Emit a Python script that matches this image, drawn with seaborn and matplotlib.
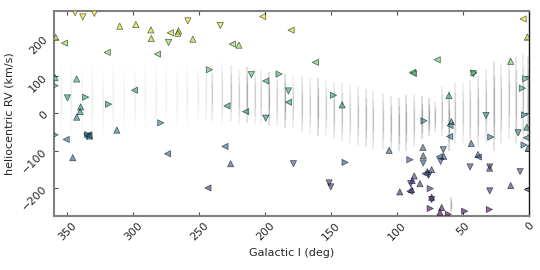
import numpy as np
import pandas as pd
import matplotlib
matplotlib.use("Agg")
import matplotlib.pyplot as plt
import seaborn as sns

# ---- triangle markers ----
gal_l = [344.0, 329.4, 338.2, 310.2, 298.0, 258.6, 286.6, 271.9, 265.6, 266.2,
         286.3, 273.2, 254.8, 358.7, 352.1, 319.7, 281.6, 242.3, 359.2, 342.8,
         359.2, 299.0, 349.8, 336.0, 318.7, 339.8, 340.2, 201.9, 234.0, 180.4,
         224.9, 219.9, 161.9, 189.5, 210.5, 199.6, 182.4, 182.4, 148.3, 141.7,
         229.0, 214.8, 4.6, 1.4, 69.7, 14.0, 88.3, 87.7, 42.3, 41.8,
         2.6, 5.2, 60.8, 79.7, 59.0, 60.0, 60.2, 32.7, 3.6, 1.8,
         8.4, 2.1, 3.9, 0.8, 43.9, 29.1, 106.1, 80.5, 65.1, 68.1,
         64.8, 67.1, 80.3, 90.4, 80.3, 38.8, 38.5, 29.9, 30.0, 44.8,
         6.9, 73.9, 77.2, 76.2, 78.8, 87.1, 88.6, 89.8, 82.8, 98.0,
         90.4, 89.1, 75.0, 73.9, 73.9, 29.9, 14.0, 1.4, 75.0, 66.3,
         67.6, 61.3, 48.9, 30.2, 342.8, 359.2, 350.8, 334.0, 333.0, 335.0,
         334.5, 333.5, 312.4, 279.1, 345.8, 274.0, 243.4, 199.6, 230.5, 226.2,
         178.6, 139.5, 151.6, 150.3]
helio_rv = [270, 268, 258.6, 233.7, 238.2, 247.9, 223.8, 215.8, 221.1, 215.0,
            200.8, 190.1, 198.9, 203.5, 188.2, 163.4, 158.8, 116.8, 95.5, 92.0,
            74.0, 61.8, 41.2, 43.0, 24.3, 17.1, 4.5, 259.6, 235.6, 223.0,
            185.6, 182.9, 136.6, 105.3, 103.5, 86.6, 59.9, 29.7, 48.4, 22.5,
            19.8, 4.5, 253.2, 204.3, 143.6, 139.3, 109.9, 106.7, 106.1, 108.0,
            92.8, 67.1, 47.3, -20.3, -22.2, -32.9, -62.3, -6.1, -4.3, -37.2,
            -52.4, -65.8, -85.3, -93.3, -81.0, -63.9, -99.7, -91.7, -97.9, -116.6,
            -115.8, -129.1, -113.9, -124.6, -133.4, -110.4, -117.4, -144.1, -147.3, -144.1,
            -156.7, -151.3, -156.7, -166.6, -162.0, -168.2, -180.7, -188.8, -188.8, -211.0,
            -209.4, -204.8, -202.1, -225.4, -231.6, -208.3, -194.1, -204.8, -255.6, -252.9,
            -265.5, -271.0, -262.8, -258.3, -10.4, -57.8, -70.3, -58.0, -61.0, -62.0,
            -57.0, -60.0, -45.2, -25.7, -119.3, -108.6, -200.3, -13.1, -89.0, -135.3,
            -135.3, -131.8, -186.9, -197.6]
shape = ['v', 'v', 'v', '^', '^', 'v', '^', '<', '^', '^',
         '^', 'v', '^', '^', '<', '<', '<', '>', '^', '^',
         '>', '<', 'v', '>', '>', '^', '^', '<', 'v', '<',
         '<', '^', '<', '>', 'v', '<', 'v', '<', '>', '^',
         '<', '<', '<', '^', '<', '^', '<', '<', 'v', '>',
         '>', '>', '^', '>', '^', '<', '<', 'v', '>', '^',
         'v', '<', '>', '^', '^', '>', '^', '^', 'v', '<',
         '^', 'v', '^', '>', 'v', '^', '<', 'v', '^', 'v',
         'v', '^', '^', 'v', '<', '^', '^', 'v', '^', '^',
         '<', '^', '>', '^', 'v', 'v', '^', '<', '>', '^',
         '^', '>', '>', '>', '^', '>', '<', '<', '^', 'v',
         '>', '<', '^', '>', '^', '<', '<', 'v', '<', '^',
         'v', '>', 'v', 'v']

# ---- faint background survey stripes (l, RV low, RV high, darkness) ----
stripe_l = [355, 347, 339, 331, 323, 315, 307, 299, 291, 283, 275, 267, 259, 251, 245,
            240, 233, 226, 220, 214, 208, 203, 197, 191, 185, 179, 172, 166, 160, 154,
            148, 142, 136, 130, 124, 118, 111, 105, 99, 93, 87, 81, 76, 71, 66,
            61, 59, 56, 50, 45, 39, 33, 27, 21, 15, 10, 5, 1]
stripe_lo = [-60, -50, -60, -50, -60, -40, -50, -40, -30, -40, -30, -30, -30, -20, -20,
             -20, -25, -20, -30, -25, -30, -30, -35, -35, -40, -40, -50, -55, -60, -60,
             -70, -75, -80, -85, -90, -95, -95, -100, -100, -100, -90, -70, -60, -50, -60,
             -100, -265, -80, -80, -90, -90, -80, -100, -80, -70, -80, -80, -60]
stripe_hi = [130, 130, 120, 130, 120, 130, 120, 120, 130, 120, 130, 120, 130, 120, 130,
             130, 135, 130, 120, 125, 120, 115, 110, 110, 105, 100, 100, 95, 95, 90,
             85, 80, 75, 70, 65, 60, 55, 45, 40, 50, 50, 45, 40, 30, 70,
             60, -225, 80, 80, 90, 100, 120, 140, 130, 150, 150, 160, 150]
stripe_a = [0.04, 0.05, 0.04, 0.05, 0.04, 0.05, 0.04, 0.05, 0.04, 0.05, 0.04, 0.05, 0.05, 0.06, 0.08,
            0.15, 0.12, 0.2, 0.15, 0.3, 0.15, 0.15, 0.3, 0.15, 0.3, 0.15, 0.2, 0.15, 0.3, 0.15,
            0.2, 0.2, 0.15, 0.2, 0.25, 0.2, 0.2, 0.25, 0.3, 0.3, 0.2, 0.35, 0.35, 0.25, 0.2,
            0.35, 0.3, 0.2, 0.15, 0.2, 0.25, 0.2, 0.3, 0.2, 0.2, 0.25, 0.2, 0.3]

df = pd.DataFrame({"l": gal_l, "rv": helio_rv, "shape": shape})

sns.set_style("white")
plt.rcParams['font.family'] = ['DejaVu Sans']

fig = plt.figure(figsize=(5.4, 2.7), dpi=100)
ax = fig.add_axes([0.1, 0.201, 0.88, 0.759])

# background stripes: faint halo + darker core (fuzzy ends)
for L, lo, hi, a in zip(stripe_l, stripe_lo, stripe_hi, stripe_a):
    span = hi - lo
    ax.vlines(L, lo, hi, color="0.4", alpha=a * 0.7, lw=1.3, zorder=1)
    ax.vlines(L, lo + 0.15 * span, hi - 0.15 * span, color="0.4", alpha=a * 0.75, lw=1.0, zorder=1)
    ax.vlines(L, lo + 0.3 * span, hi - 0.3 * span, color="0.4", alpha=a * 0.85, lw=0.8, zorder=1)

sns.scatterplot(data=df, x="l", y="rv", hue="rv", style="shape",
                markers={'^': '^', 'v': 'v', '<': '<', '>': '>'},
                palette="viridis", hue_norm=(-275, 275), s=20,
                edgecolor="k", linewidth=0.5, alpha=0.62, legend=False,
                ax=ax, zorder=3)

ax.set_xlim(360, 0)
ax.set_ylim(-275, 275)
ax.set_xticks([350, 300, 250, 200, 150, 100, 50, 0])
ax.set_yticks([-200, -100, 0, 100, 200])
ax.set_xlabel("Galactic l (deg)", fontsize=8)
ax.set_ylabel("heliocentric RV (km/s)", fontsize=8)
ax.tick_params(direction="in", length=3, width=0.8, top=True, right=True,
               bottom=True, left=True, labelsize=8, color="0.3")
for lab in ax.get_xticklabels() + ax.get_yticklabels():
    lab.set_rotation(45)
for sp in ax.spines.values():
    sp.set_color("0.5")
    sp.set_linewidth(1.5)
ax.spines["right"].set_color("0.1")
ax.spines["right"].set_linewidth(1.0)

fig.savefig("out.png", dpi=100)
